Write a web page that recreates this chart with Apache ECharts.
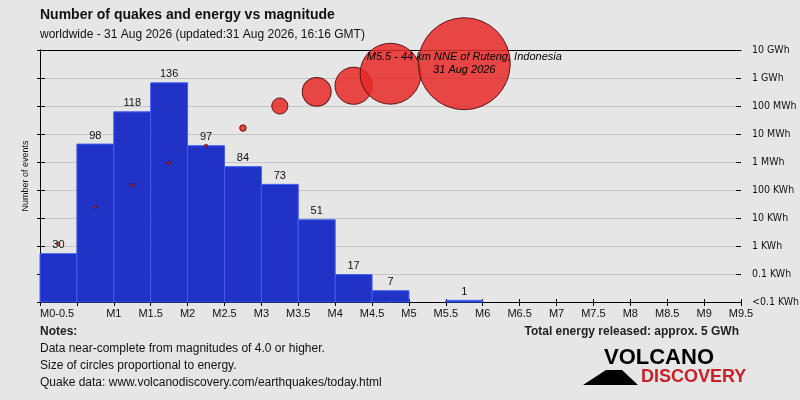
<!DOCTYPE html>
<html>
<head>
    <meta charset="utf-8">
    <title>Number of quakes and energy vs magnitude</title>
    <script src="https://cdn.jsdelivr.net/npm/echarts@6/dist/echarts.min.js"></script>
    <style>
        html, body { margin: 0; padding: 0; background: #e6e6e6; }
        #main { width: 800px; height: 400px; }
    </style>
</head>
<body>
<div id="main"></div>
<script>
    // magnitude bins (lower / upper bound) and number of quakes per bin
    var binLow  = [0, 0.5, 1, 1.5, 2, 2.5, 3, 3.5, 4, 4.5, 5, 5.5];
    var binHigh = [0.5, 1, 1.5, 2, 2.5, 3, 3.5, 4, 4.5, 5, 5.5, 6];
    var counts  = [30, 98, 118, 136, 97, 84, 73, 51, 17, 7, 0, 1];
    // released energy per bin, in KWh (log axis)
    var energyMag = [0.25, 0.75, 1.25, 1.75, 2.25, 2.75, 3.25, 3.75, 4.25, 4.75, 5.75];
    var energyKWh = [1.2, 25, 150, 920, 3800, 16300, 100000, 320000, 530000, 1420000, 3240000];
    // right axis labels, from 0.01 KWh up to 10 GWh
    var energyLabels = ['<0.1 KWh', '0.1 KWh', '1 KWh', '10 KWh', '100 KWh',
        '1 MWh', '10 MWh', '100 MWh', '1 GWh', '10 GWh'];
    var biggestQuake = ['M5.5 - 44 km NNE of Ruteng, Indonesia', '31 Aug 2026'];

    var chart = echarts.init(document.getElementById('main'));
    var font = 'Liberation Sans';
    var narrow = "'DejaVu Sans Condensed', 'Liberation Sans'";

    var bars = [];
    for (var i = 0; i < counts.length; i++) {
        bars.push([binLow[i], binHigh[i], counts[i]]);
    }
    var dots = [];
    for (var j = 0; j < energyMag.length; j++) {
        dots.push([energyMag[j], energyKWh[j]]);
    }
    var maxE = energyKWh[energyKWh.length - 1];

    function energyLabel(v) {
        var k = Math.round(Math.log(v) / Math.LN10) + 2;
        return energyLabels[k] || '';
    }

    var option = {
        backgroundColor: '#e6e6e6',
        animation: false,
        textStyle: { fontFamily: font },
        title: {
            text: 'Number of quakes and energy vs magnitude',
            subtext: 'worldwide - 31 Aug 2026 (updated:31 Aug 2026, 16:16 GMT)',
            left: 35, top: 3, itemGap: 7,
            textStyle: { fontFamily: font, fontSize: 14, fontWeight: 'bold', color: '#111' },
            subtextStyle: { fontFamily: font, fontSize: 12, color: '#111' }
        },
        grid: { left: 40, right: 59, top: 50, bottom: 98, outerBoundsMode: 'none', containLabel: false },
        xAxis: [
            {
                type: 'value', min: 0, max: 9.5, interval: 0.5, position: 'bottom',
                axisLine: { lineStyle: { color: '#000' } },
                axisTick: { length: 4, lineStyle: { color: '#000' } },
                splitLine: { show: false },
                axisLabel: {
                    color: '#111', fontSize: 11, margin: 6, alignMinLabel: 'left',
                    showMinLabel: true, showMaxLabel: true,
                    formatter: function (v) {
                        if (v === 0) return 'M0-0.5';
                        if (v === 0.5) return '';
                        return 'M' + v;
                    }
                }
            },
            {
                type: 'value', min: 0, max: 9.5, position: 'top',
                axisLine: { show: true, lineStyle: { color: '#000' } },
                axisTick: { show: false }, axisLabel: { show: false }, splitLine: { show: false }
            },
            {
                type: 'value', min: 0, max: 9.5, interval: 0.5, position: 'bottom',
                axisLine: { show: false },
                axisTick: { inside: true, length: 3, lineStyle: { color: '#000' } },
                axisLabel: { show: false }, splitLine: { show: false }
            }
        ],
        yAxis: [
            {
                type: 'value', min: 0, max: 156.4, position: 'left',
                name: 'Number of events', nameLocation: 'middle', nameGap: 10,
                nameTextStyle: { fontSize: 9, color: '#111' },
                axisLine: { show: true, lineStyle: { color: '#000' } },
                axisTick: { show: false }, axisLabel: { show: false }, splitLine: { show: false }
            },
            {
                type: 'log', logBase: 10, min: 0.01, max: 1e7, interval: 1, position: 'right',
                axisLine: { show: true, lineStyle: { color: '#000' } },
                axisTick: { length: 5, lineStyle: { color: '#000' } },
                axisLabel: { color: '#111', fontSize: 10.5, margin: 11, fontFamily: narrow, formatter: energyLabel },
                splitLine: { show: true, lineStyle: { color: '#c4c4c4', width: 1 } }
            },
            {
                type: 'log', logBase: 10, min: 0.01, max: 1e7, interval: 1, position: 'left',
                axisLine: { show: false },
                axisTick: { length: 3, lineStyle: { color: '#000' } },
                axisLabel: { show: false }, splitLine: { show: false }
            },
            {
                type: 'log', logBase: 10, min: 0.01, max: 1e7, interval: 1, position: 'right',
                axisLine: { show: false },
                axisTick: { inside: true, length: 5, lineStyle: { color: '#000' } },
                axisLabel: { show: false }, splitLine: { show: false }
            }
        ],
        series: [
            {
                type: 'custom',
                xAxisIndex: 0, yAxisIndex: 0,
                encode: { x: [0, 1], y: 2 },
                data: bars,
                renderItem: function (params, api) {
                    var n = api.value(2);
                    if (!n) return null;
                    var p0 = api.coord([api.value(0), n]);
                    var p1 = api.coord([api.value(1), 0]);
                    return {
                        type: 'group',
                        children: [
                            {
                                type: 'rect',
                                shape: { x: p0[0], y: p0[1], width: p1[0] - p0[0], height: p1[1] - p0[1] },
                                style: { fill: '#2133c6', stroke: '#3d5cf2', lineWidth: 1 }
                            },
                            {
                                type: 'text',
                                style: {
                                    text: String(n), x: (p0[0] + p1[0]) / 2, y: p0[1] - 3,
                                    align: 'center', verticalAlign: 'bottom',
                                    fill: '#111', fontSize: 11, fontFamily: font
                                }
                            }
                        ]
                    };
                },
                z: 2
            },
            {
                type: 'scatter',
                xAxisIndex: 0, yAxisIndex: 1,
                data: dots,
                symbolSize: function (v) {
                    return Math.max(3, 92 * Math.sqrt(v[1] / maxE));
                },
                itemStyle: {
                    color: 'rgba(232, 40, 40, 0.85)',
                    borderColor: 'rgba(80, 12, 12, 0.9)',
                    borderWidth: 1,
                    opacity: 1
                },
                label: {
                    show: true, position: 'inside',
                    formatter: function (p) {
                        return p.dataIndex === dots.length - 1 ? biggestQuake.join('\n') : '';
                    },
                    color: '#000', fontSize: 11, fontStyle: 'italic', lineHeight: 13, fontFamily: font
                },
                z: 3
            }
        ],
        graphic: [
            { type: 'text', left: 40, top: 326, style: { text: 'Notes:', fontSize: 12, fontWeight: 'bold', fill: '#222', fontFamily: font } },
            { type: 'text', left: 40, top: 343, style: { text: 'Data near-complete from magnitudes of 4.0 or higher.', fontSize: 12, fill: '#111', fontFamily: font } },
            { type: 'text', left: 40, top: 360, style: { text: 'Size of circles proportional to energy.', fontSize: 12, fill: '#111', fontFamily: font } },
            { type: 'text', left: 40, top: 377, style: { text: 'Quake data: www.volcanodiscovery.com/earthquakes/today.html', fontSize: 12, fill: '#111', fontFamily: font } },
            { type: 'text', right: 61, top: 326, style: { text: 'Total energy released: approx. 5 GWh', fontSize: 12, fontWeight: 'bold', fill: '#222', fontFamily: font } },
            // logo
            { type: 'polygon', shape: { points: [[583, 385], [606, 370], [622, 370], [638, 385]] }, style: { fill: '#000' } },
            { type: 'text', left: 604, top: 347, style: { text: 'VOLCANO', fontSize: 22, fontWeight: 'bold', fill: '#000', fontFamily: font } },
            { type: 'text', left: 641, top: 368, style: { text: 'DISCOVERY', fontSize: 18, fontWeight: 'bold', fill: '#c8202a', fontFamily: font } }
        ]
    };
    chart.setOption(option);
</script>
</body>
</html>
